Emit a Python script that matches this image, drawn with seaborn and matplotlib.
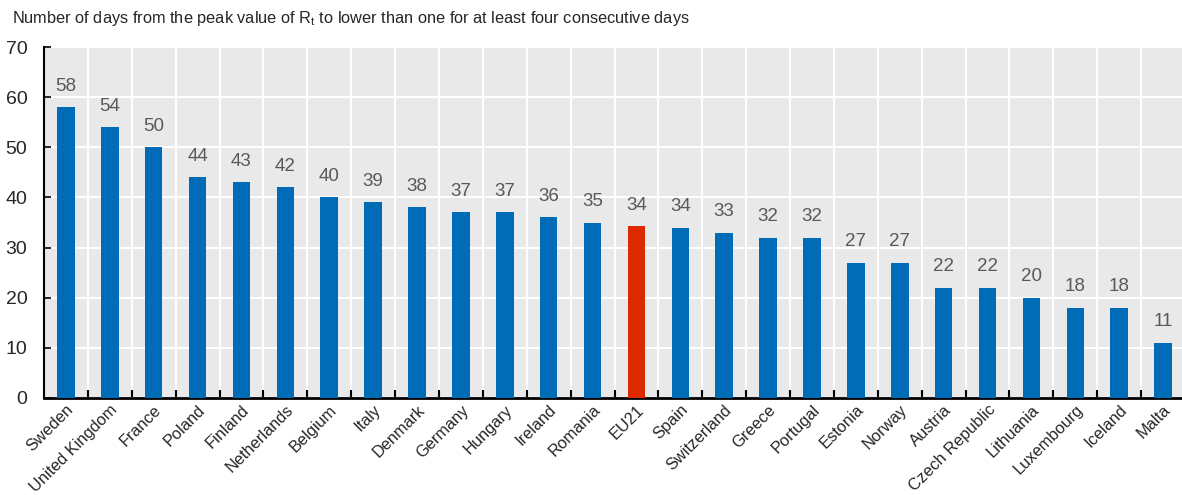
import pandas as pd
import seaborn as sns
import matplotlib.pyplot as plt
from matplotlib.ticker import MultipleLocator, FixedLocator

# Data
countries = ['Sweden', 'United Kingdom', 'France', 'Poland', 'Finland', 'Netherlands',
             'Belgium', 'Italy', 'Denmark', 'Germany', 'Hungary', 'Ireland', 'Romania',
             'EU21', 'Spain', 'Switzerland', 'Greece', 'Portugal', 'Estonia', 'Norway',
             'Austria', 'Czech Republic', 'Lithuania', 'Luxembourg', 'Iceland', 'Malta']
days = [58, 54, 50, 44, 43, 42, 40, 39, 38, 37, 37, 36, 35,
        34.3, 34, 33, 32, 32, 27, 27, 22, 22, 20, 18, 18, 11]
highlight = 'EU21'
title = 'Number of days from the peak value of R$_\\mathrm{t}$ to lower than one for at least four consecutive days'

blue = '#006BB6'
red = '#DC2900'

df = pd.DataFrame({'Country': countries, 'Days': days})
palette = {c: (red if c == highlight else blue) for c in countries}

sns.set_style('white')
plt.rcParams['font.family'] = ['Liberation Sans', 'DejaVu Sans']
plt.rcParams['mathtext.fontset'] = 'custom'
plt.rcParams['mathtext.rm'] = 'Liberation Sans'

fig = plt.figure(figsize=(11.82, 4.95), dpi=100)
ax = fig.add_axes([44 / 1182, 1 - 398 / 495, 1141 / 1182, 351 / 495])

sns.barplot(data=df, x='Country', y='Days', hue='Country', palette=palette,
            legend=False, width=0.4, saturation=1, linewidth=0, ax=ax, zorder=3)

# Value labels on top of the bars
for cont in ax.containers:
    ax.bar_label(cont, fmt='%.0f', padding=9, color='#595959', fontsize=13.5)

ax.set_facecolor('#E9E9E9')
ax.set_xlim(-0.5, len(countries) - 0.5)
ax.set_ylim(0, 70)
ax.yaxis.set_major_locator(MultipleLocator(10))
ax.xaxis.set_minor_locator(FixedLocator([i + 0.5 for i in range(len(countries) - 1)]))

ax.grid(axis='y', which='major', color='white', linewidth=1.5, zorder=0)
ax.grid(axis='x', which='minor', color='white', linewidth=1.5, zorder=0)
ax.set_axisbelow(True)

for s in ['top', 'right']:
    ax.spines[s].set_visible(False)
ax.spines['left'].set_linewidth(1.5)
ax.spines['bottom'].set_linewidth(2)
ax.spines['left'].set_color('black')
ax.spines['bottom'].set_color('black')

ax.tick_params(axis='y', direction='in', length=5, width=1.2, labelsize=14, pad=12,
               left=True, color='black')
ax.tick_params(axis='x', which='major', length=0, labelsize=11.8, pad=3)
ax.tick_params(axis='x', which='minor', direction='in', length=6, width=1.5,
               bottom=True, color='black')
plt.setp(ax.get_xticklabels(), rotation=45, ha='right', rotation_mode='anchor')

ax.set_xlabel('')
ax.set_ylabel('')

fig.text(12 / 1182, 1 - 18 / 495, title, fontsize=11.8, va='center', ha='left')

fig.savefig('out.png', dpi=100)
